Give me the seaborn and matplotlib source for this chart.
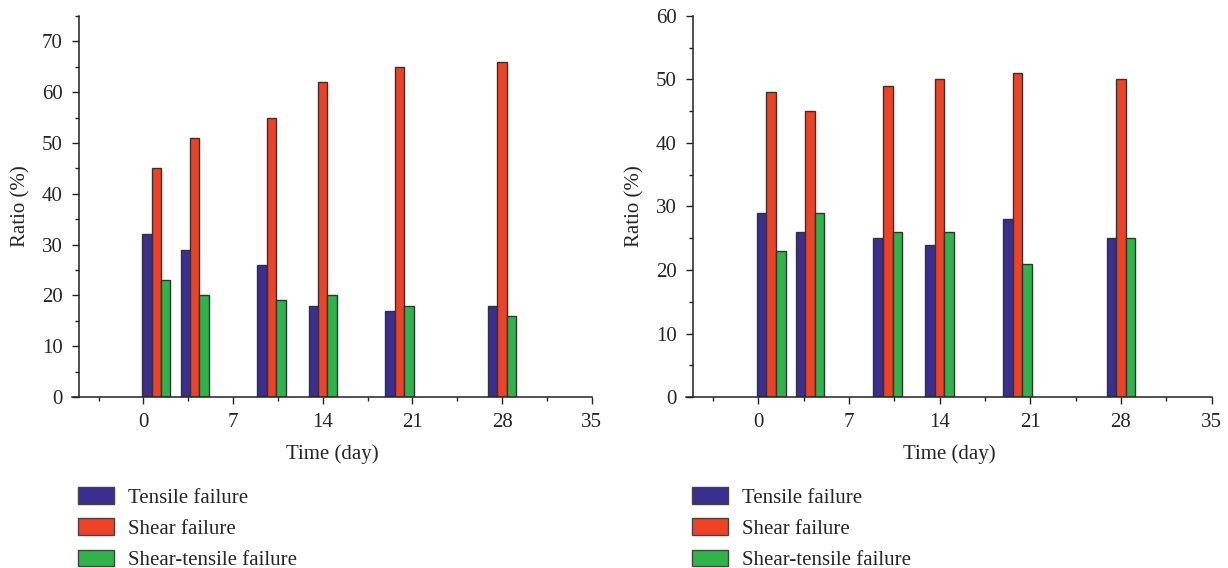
import numpy as np
import pandas as pd
import matplotlib
matplotlib.use("Agg")
import matplotlib.pyplot as plt
import seaborn as sns
from matplotlib.ticker import MultipleLocator

days = [1, 4, 10, 14, 20, 28]
series = ["Tensile failure", "Shear failure", "Shear-tensile failure"]

left_tensile = [32, 29, 26, 18, 17, 18]
left_shear = [45, 51, 55, 62, 65, 66]
left_shear_tensile = [23, 20, 19, 20, 18, 16]

right_tensile = [29, 26, 25, 24, 28, 25]
right_shear = [48, 45, 49, 50, 51, 50]
right_shear_tensile = [23, 29, 26, 26, 21, 25]

colors = ["#3a2e90", "#ee4125", "#2fb34b"]
xticks = [0, 7, 14, 21, 28, 35]

sns.set_theme(style="ticks")
plt.rcParams["font.family"] = ["Liberation Serif", "DejaVu Serif"]
plt.rcParams["font.size"] = 15


def make_df(t, s, st):
    rows = []
    for name, vals in zip(series, [t, s, st]):
        for d, v in zip(days, vals):
            rows.append({"Time": d, "Ratio": v, "Type": name})
    return pd.DataFrame(rows)


fig = plt.figure(figsize=(12.28, 5.68), dpi=100)
ax1 = fig.add_axes([0.0586, 0.301, 0.4233, 0.671])
ax2 = fig.add_axes([0.5586, 0.301, 0.4281, 0.671])

panels = [
    (ax1, make_df(left_tensile, left_shear, left_shear_tensile), 75, [0, 10, 20, 30, 40, 50, 60, 70]),
    (ax2, make_df(right_tensile, right_shear, right_shear_tensile), 60, [0, 10, 20, 30, 40, 50, 60]),
]

for ax, df, ymax, yticks in panels:
    sns.barplot(data=df, x="Time", y="Ratio", hue="Type", hue_order=series,
                palette=colors, native_scale=True, errorbar=None, width=0.737,
                edgecolor="#333333", linewidth=1.0, saturation=1, ax=ax, legend=False)
    ax.set_xlim(-5.58, 35)
    ax.set_ylim(0, ymax)
    ax.spines["left"].set_position(("data", -5))
    ax.spines["top"].set_visible(False)
    ax.spines["right"].set_visible(False)
    ax.spines["left"].set_bounds(0, ymax)
    ax.set_xticks(xticks)
    ax.set_xticklabels([str(x) for x in xticks])
    ax.xaxis.set_minor_locator(MultipleLocator(3.5))
    ax.set_yticks(yticks)
    ax.yaxis.set_minor_locator(MultipleLocator(5))
    ax.tick_params(axis="x", which="major", direction="out", length=5.2, width=1,
                   labelsize=15, color="#222222", pad=6)
    ax.tick_params(axis="y", which="major", direction="out", length=5.4, width=1,
                   labelsize=15, color="#222222", pad=6.5)
    ax.tick_params(axis="both", which="minor", direction="out", length=3, width=1,
                   color="#222222")
    for sp in ["left", "bottom"]:
        ax.spines[sp].set_linewidth(1.1)
        ax.spines[sp].set_color("#222222")
    ax.set_xlabel("Time (day)", fontsize=15, labelpad=9)
    ax.set_ylabel("Ratio (%)", fontsize=15, labelpad=8)

handles = [plt.Rectangle((0, 0), 1, 1, facecolor=c, edgecolor="#444444", linewidth=1)
           for c in colors]
for xanchor in [0.0635, 0.5635]:
    fig.legend(handles, series, loc="upper left", bbox_to_anchor=(xanchor, 0.1426),
               frameon=False, fontsize=15, handlelength=1.73, handleheight=0.85,
               handletextpad=0.67, labelspacing=0.52, borderaxespad=0, borderpad=0)

fig.savefig("out.png", dpi=100)
